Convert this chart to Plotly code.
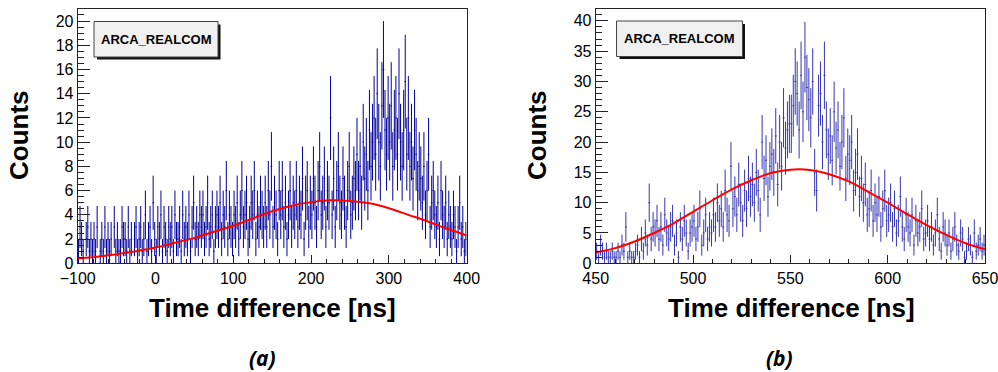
import numpy as np
import plotly.graph_objects as go

# ---------------- data: panel (a) ----------------
a_x_start = -100          # first bin low edge [ns]
a_bin_width = 2
a_counts = [
    1,3,2,1,0,2,3,1,2,1,   # -100 .. -80
    2,1,3,0,1,2,1,3,1,2,   # -80 .. -60
    1,2,0,3,1,2,1,1,3,2,   # -60 .. -40
    2,1,3,1,2,0,2,3,1,2,   # -40 .. -20
    3,1,2,4,1,2,3,1,5,2,   # -20 .. 0
    1,3,2,4,1,3,2,1,3,2,   # 0 .. 20
    3,1,4,2,2,3,1,4,2,3,   # 20 .. 40
    2,4,1,3,5,2,3,2,4,3,   # 40 .. 60
    4,2,3,5,2,3,4,1,3,4,   # 60 .. 80
    3,5,2,4,3,6,2,4,3,2,   # 80 .. 100
    4,3,5,2,4,6,3,4,5,2,   # 100 .. 120
    3,5,4,6,2,4,3,5,4,3,   # 120 .. 140
    5,3,6,4,8,3,5,4,2,6,   # 140 .. 160
    4,6,3,5,2,4,6,3,5,4,   # 160 .. 180
    6,3,5,4,7,2,5,6,3,5,   # 180 .. 200
    4,7,5,3,6,8,4,5,7,3,   # 200 .. 220
    6,5,12,4,7,3,6,8,5,4,  # 220 .. 240
    7,5,3,6,8,4,5,7,6,9,   # 240 .. 260
    6,8,5,10,7,9,6,11,8,10,   # 260 .. 280
    12,9,14,10,8,13,16,11,9,12,  # 280 .. 300
    10,13,8,11,12,9,14,10,8,11,  # 300 .. 320
    15,9,12,8,10,7,11,9,6,8,   # 320 .. 340
    7,5,8,4,6,9,3,5,6,4,   # 340 .. 360
    3,5,2,6,4,3,5,2,4,3,   # 360 .. 380
    2,4,3,1,3,5,2,3,1,2,   # 380 .. 400
]
a_fit_x = [-100, -75, -50, -25, 0, 25, 50, 75, 100, 125, 150, 175, 200, 225, 250, 275, 300, 325, 350, 375, 400]
a_fit_y = [0.4, 0.55, 0.75, 1.0, 1.3, 1.7, 2.1, 2.6, 3.1, 3.7, 4.3, 4.75, 5.05, 5.2, 5.15, 4.95, 4.55, 4.0, 3.45, 2.85, 2.3]

# ---------------- data: panel (b) ----------------
b_x_start = 450
b_bin_width = 1
b_counts = [
    2,1,3,2,1,2,1,1,2,1,
    1,2,1,3,2,6,1,2,1,1,
    2,3,1,4,2,5,3,10,4,6,
    5,7,4,6,3,8,5,4,6,7,
    3,5,1,6,4,7,5,2,5,6,
    7,4,6,9,3,5,8,4,6,5,
    8,6,10,7,9,6,12,8,7,16,
    9,11,8,13,10,7,12,9,14,11,
    13,10,15,12,8,20,14,17,11,16,
    18,15,21,13,20,16,24,19,22,23,
    23,26,30,28,22,31,25,34,29,27,
    24,30,15,12,26,28,20,31,22,18,
    21,17,25,19,22,16,20,24,14,18,
    17,20,12,15,18,11,14,10,13,8,
    9,12,7,10,8,11,6,9,12,7,
    8,10,6,9,5,7,11,6,4,8,
    6,5,8,3,7,5,6,9,4,5,
    7,4,6,3,5,8,4,2,6,5,
    3,5,2,4,6,3,2,5,4,1,
    2,4,3,1,5,2,3,4,2,3,
]
b_fit_x = [450, 460, 470, 480, 490, 500, 510, 520, 530, 540, 550, 560, 570, 580, 590, 600, 610, 620, 630, 640, 650]
b_fit_y = [1.8, 2.5, 3.6, 5.0, 6.6, 8.5, 10.4, 12.2, 13.7, 14.9, 15.45, 15.4, 14.7, 13.5, 11.8, 10.0, 8.1, 6.3, 4.7, 3.3, 2.3]

# ---------------- figure ----------------
W, H = 998, 372
FONT = "Liberation Sans, Arial, Helvetica, sans-serif"
HIST_COLOR_A = "#000099"
HIST_COLOR_B = "#3535b5"


def px(xp):
    return xp / W


def py(yp):
    return 1 - yp / H


fig = go.Figure()


def add_hist(counts, start, width, color, xa, ya):
    counts = np.array(counts, dtype=float)
    centers = start + width * (np.arange(len(counts)) + 0.5)
    err = np.sqrt(counts)
    fig.add_trace(go.Scatter(
        x=centers, y=counts, mode="markers", xaxis=xa, yaxis=ya,
        marker=dict(size=0.1, color=color, opacity=0),
        error_y=dict(type="data", array=err, visible=True, thickness=1, width=0, color=color),
        error_x=dict(type="constant", value=width / 2, visible=True, thickness=1, width=0, color=color),
        showlegend=False, hoverinfo="skip",
    ))


add_hist(a_counts, a_x_start, a_bin_width, HIST_COLOR_A, "x", "y")
add_hist(b_counts, b_x_start, b_bin_width, HIST_COLOR_B, "x2", "y2")

fig.add_trace(go.Scatter(x=a_fit_x, y=a_fit_y, mode="lines", line=dict(color="#ff0000", width=2, shape="spline"),
                         xaxis="x", yaxis="y", showlegend=False))
fig.add_trace(go.Scatter(x=b_fit_x, y=b_fit_y, mode="lines", line=dict(color="#ff0000", width=2, shape="spline"),
                         xaxis="x2", yaxis="y2", showlegend=False))

ydom = [py(263.3), py(9.3)]
common_axis = dict(showline=True, linecolor="#222", linewidth=1, mirror=True, showgrid=False, zeroline=False,
                   automargin=False, ticks="inside", tickcolor="#222", ticklabeloverflow="allow",
                   tickfont=dict(family=FONT, size=16, color="black"))

fig.update_layout(
    width=W, height=H, margin=dict(l=0, r=0, t=0, b=0, autoexpand=False),
    paper_bgcolor="white", plot_bgcolor="white", showlegend=False,
    xaxis=dict(domain=[px(77.7), px(466.7)], range=[-100, 400], anchor="y", tick0=0, dtick=100, ticklen=8,
               minor=dict(dtick=20, ticklen=4, ticks="inside", tickcolor="#222", showgrid=False), **common_axis),
    yaxis=dict(domain=ydom, range=[0, 20.97], anchor="x", tick0=0, dtick=2, ticklen=12,
               minor=dict(dtick=0.5, ticklen=6, ticks="inside", tickcolor="#222", showgrid=False), **common_axis),
    xaxis2=dict(domain=[px(595.7), px(985)], range=[450, 650], anchor="y2", tick0=450, dtick=50, ticklen=8,
                minor=dict(dtick=10, ticklen=4, ticks="inside", tickcolor="#222", showgrid=False), **common_axis),
    yaxis2=dict(domain=ydom, range=[0, 41.9], anchor="x2", tick0=0, dtick=5, ticklen=12,
                minor=dict(dtick=1, ticklen=6, ticks="inside", tickcolor="#222", showgrid=False), **common_axis),
)

# Stat-style boxes "ARCA_REALCOM" with shadow
for (x0, y0, x1, y1) in [(94, 21.5, 218, 57), (616.5, 21, 742.5, 56.5)]:
    fig.add_shape(type="rect", xref="paper", yref="paper",
                  x0=px(x0 + 3), x1=px(x1 + 2.5), y0=py(y1 + 2.5), y1=py(y0 + 3),
                  fillcolor="#111", line=dict(width=0), layer="above")
    fig.add_shape(type="rect", xref="paper", yref="paper",
                  x0=px(x0), x1=px(x1), y0=py(y1), y1=py(y0),
                  fillcolor="#f0f0f0", line=dict(color="#444", width=1), layer="above")
    fig.add_annotation(x=px((x0 + x1) / 2), y=py((y0 + y1) / 2), xref="paper", yref="paper",
                       text="<b>ARCA_REALCOM</b>", showarrow=False,
                       font=dict(family=FONT, size=13, color="black"), xanchor="center", yanchor="middle")

# Axis titles
for cx in [19, 537]:
    fig.add_annotation(x=px(cx), y=py(135), xref="paper", yref="paper", text="<b>Counts</b>",
                       textangle=-90, showarrow=False, font=dict(family=FONT, size=26, color="black"),
                       xanchor="center", yanchor="middle")
for cx in [272.5, 791]:
    fig.add_annotation(x=px(cx), y=py(308), xref="paper", yref="paper", text="<b>Time difference [ns]</b>",
                       showarrow=False, font=dict(family=FONT, size=26, color="black"),
                       xanchor="center", yanchor="middle")

# Panel captions
for cx, lab in [(262, "(a)"), (779, "(b)")]:
    fig.add_annotation(x=px(cx), y=py(358), xref="paper", yref="paper", text=f"<b><i>{lab}</i></b>",
                       showarrow=False, font=dict(family="Open Sans, DejaVu Sans, sans-serif", size=21, color="black"),
                       xanchor="center", yanchor="middle")

fig.write_html("out.html", config={"displayModeBar": False},
               post_script="document.body.style.margin='0';document.body.style.padding='0';")
